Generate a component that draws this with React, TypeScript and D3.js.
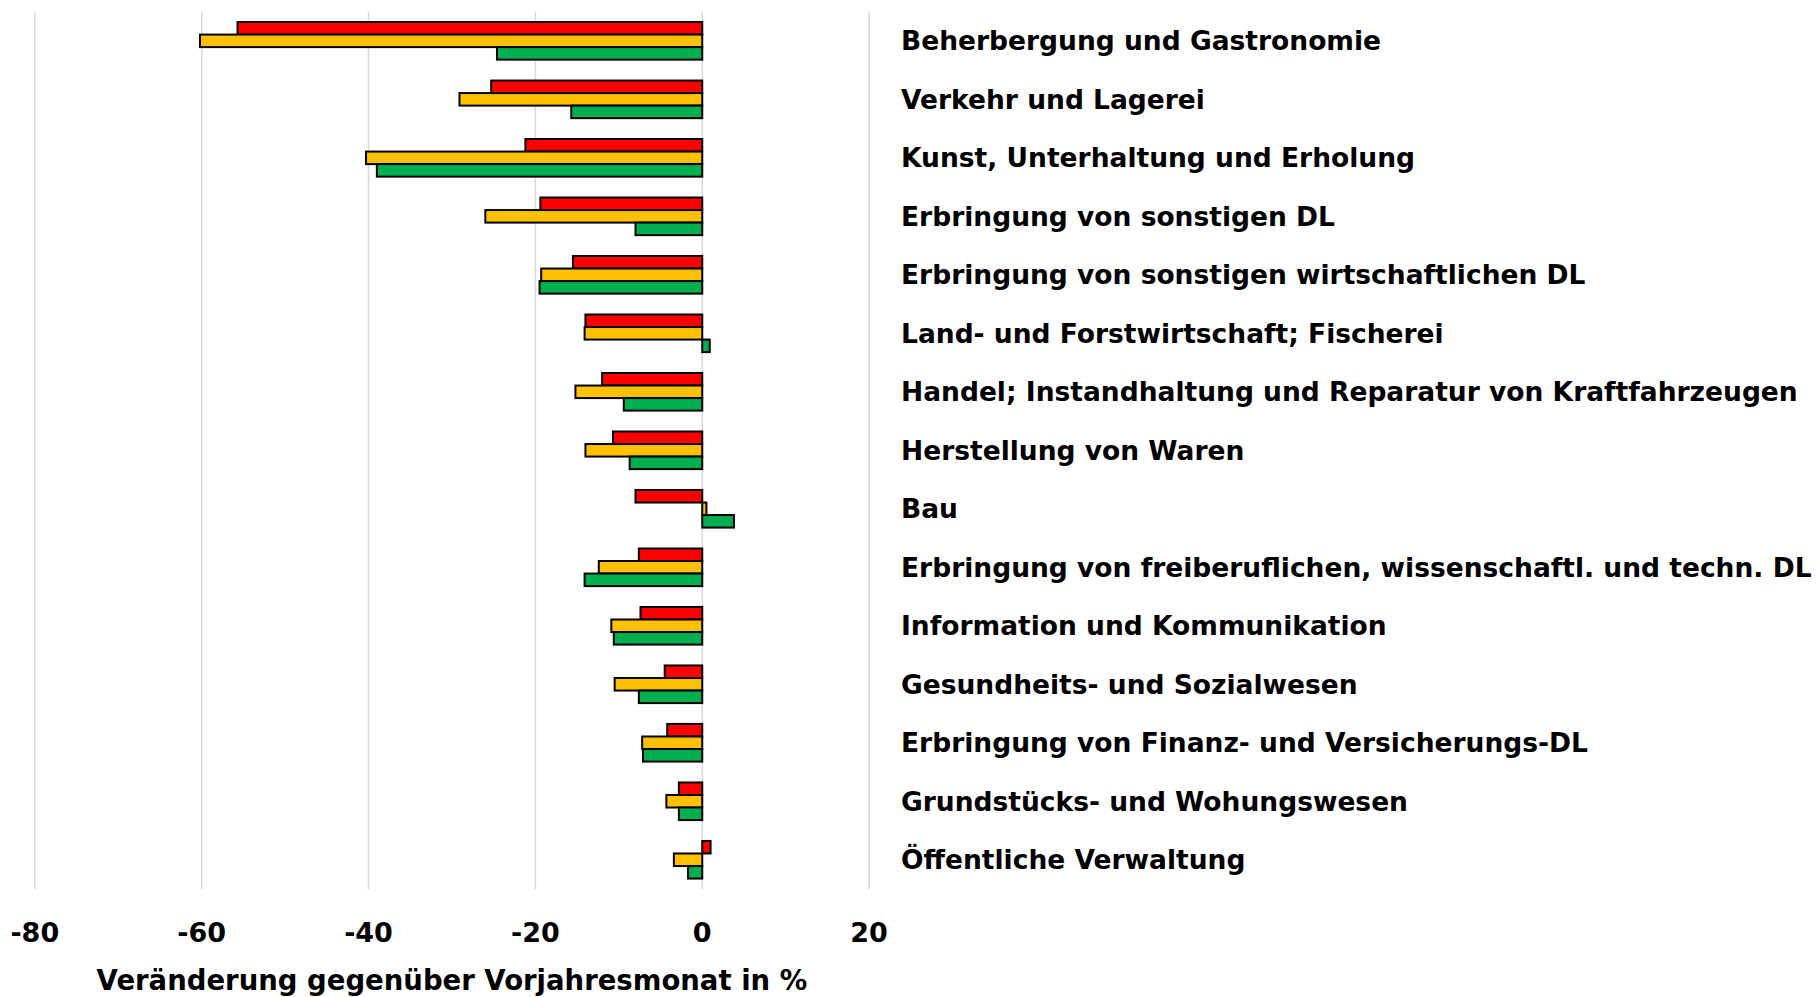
import { scaleBand, scaleLinear } from "d3";

const width = 1817;
const height = 997;

const categories = [
  "Beherbergung und Gastronomie",
  "Verkehr und Lagerei",
  "Kunst, Unterhaltung und Erholung",
  "Erbringung von sonstigen DL",
  "Erbringung von sonstigen wirtschaftlichen DL",
  "Land- und Forstwirtschaft; Fischerei",
  "Handel; Instandhaltung und Reparatur von Kraftfahrzeugen",
  "Herstellung von Waren",
  "Bau",
  "Erbringung von freiberuflichen, wissenschaftl. und techn. DL",
  "Information und Kommunikation",
  "Gesundheits- und Sozialwesen",
  "Erbringung von Finanz- und Versicherungs-DL",
  "Grundstücks- und Wohungswesen",
  "Öffentliche Verwaltung",
];

// three series per branch, top to bottom: red, yellow, green
const redValues = [-55.7, -25.3, -21.2, -19.4, -15.5, -14.0, -12.0, -10.7, -8.0, -7.6, -7.4, -4.5, -4.2, -2.8, 1.0];
const yellowValues = [-60.2, -29.1, -40.3, -26.0, -19.3, -14.1, -15.2, -14.0, 0.5, -12.4, -10.9, -10.5, -7.2, -4.3, -3.4];
const greenValues = [-24.6, -15.7, -39.0, -8.0, -19.5, 0.9, -9.4, -8.7, 3.8, -14.1, -10.6, -7.6, -7.1, -2.8, -1.7];

const seriesNames = ["rot", "gelb", "gruen"];
const seriesColors = ["#FF0000", "#FFC000", "#00B050"];
const seriesValues = [redValues, yellowValues, greenValues];

const xTicks = [-80, -60, -40, -20, 0, 20];
const xTitle = "Veränderung gegenüber Vorjahresmonat in %";

const font = "'DejaVu Sans', sans-serif";

export default function App() {
  const x = scaleLinear().domain([-80, 20]).range([34.8, 869.1]);
  const y = scaleBand<string>()
    .domain(categories)
    .range([11.6, 889])
    .paddingInner(0.357)
    .paddingOuter(0.1785);
  const ySub = scaleBand<string>()
    .domain(seriesNames)
    .range([0, y.bandwidth()]);

  const [top, bottom] = y.range();

  return (
    <div style={{ position: "absolute", left: 0, top: 0 }}>
      <svg width={width} height={height} style={{ display: "block" }}>
        <rect width={width} height={height} fill="#fff" />
        {xTicks.map((t) => (
          <line
            key={`g${t}`}
            x1={x(t)}
            x2={x(t)}
            y1={top}
            y2={bottom}
            stroke="#D9D9D9"
            strokeWidth={1.5}
          />
        ))}
        {categories.map((c, i) => (
          <g key={c} transform={`translate(0,${y(c)})`}>
            {seriesValues.map((vals, s) => {
              const v = vals[i];
              return (
                <rect
                  key={seriesNames[s]}
                  x={Math.min(x(0), x(v))}
                  y={ySub(seriesNames[s])}
                  width={Math.abs(x(v) - x(0))}
                  height={ySub.bandwidth()}
                  fill={seriesColors[s]}
                  stroke="#000"
                  strokeWidth={2}
                />
              );
            })}
          </g>
        ))}
        {categories.map((c) => (
          <text
            key={`l${c}`}
            x={901}
            y={(y(c) ?? 0) + y.bandwidth() / 2}
            dominantBaseline="central"
            fontFamily={font}
            fontWeight="bold"
            fontSize={26.5}
            fill="#000"
          >
            {c}
          </text>
        ))}
        {xTicks.map((t) => (
          <text
            key={`t${t}`}
            x={x(t)}
            y={932}
            textAnchor="middle"
            dominantBaseline="central"
            fontFamily={font}
            fontWeight="bold"
            fontSize={27}
            fill="#000"
          >
            {t}
          </text>
        ))}
        <text
          x={(x(-80) + x(20)) / 2}
          y={990}
          textAnchor="middle"
          fontFamily={font}
          fontWeight="bold"
          fontSize={27.5}
          fill="#000"
        >
          {xTitle}
        </text>
      </svg>
    </div>
  );
}
